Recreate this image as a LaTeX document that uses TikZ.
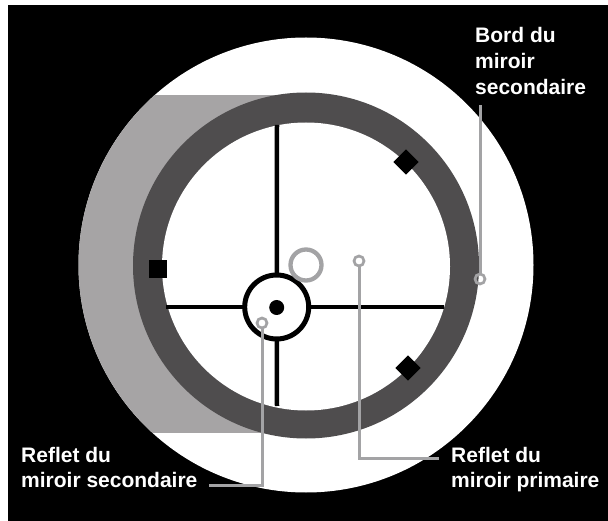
\documentclass[tikz,border=0pt]{standalone}
\usepackage{fontspec}
\setmainfont{Liberation Sans}
\usetikzlibrary{positioning}
\definecolor{ringgray}{HTML}{4F4D4E}
\definecolor{shadegray}{HTML}{A6A4A5}
\definecolor{leadgray}{HTML}{A3A3A5}
\tikzset{
    disc/.style={circle, inner sep=0pt, outer sep=0pt},
    marker/.style={fill=black, inner sep=0pt, outer sep=0pt, minimum size=#1},
    target/.style={disc, draw=leadgray, line width=2.7pt, minimum size=10pt},
    leader/.style={draw=leadgray, line width=3pt},
    cross/.style={line width=4.5pt, black},
    legend/.style={text=white, align=left, anchor=north west, inner sep=0pt, font=\fontsize{21}{25}\selectfont\bfseries}
}
\begin{document}
\begin{tikzpicture}[x=1pt, y=-1pt]
            \useasboundingbox (0,0) rectangle (608,521);
            \fill[white] (0,0) rectangle (608,521);
            \fill[black] (8,5) rectangle (608,521);

            \node[disc, fill=white, minimum size=455pt] (fond) at (306,265) {};
            \begin{scope}
                \clip (306,265) circle (227.5);
                \fill[shadegray] (60,95) rectangle (285,433);
            \end{scope}
            \node[disc, fill=ringgray, minimum size=346pt] (bord) at (306,265.5) {};
            \node[disc, fill=white, minimum size=288pt] (champ) at (306,266.5) {};

            \coordinate (haut) at (277,125);
            \coordinate (bas) at (277,406);
            \coordinate (gauche) at (166,307);
            \coordinate (droite) at (444,307);
            \node[disc, draw=black, line width=5pt, fill=white, minimum size=64pt] (sec) at (276.7,307) {};
            \node[disc, fill=black, minimum size=15pt] (point) at (276.7,307.5) {};
            \draw[cross] (haut) -- (sec);
            \draw[cross] (bas) -- (sec);
            \draw[cross] (gauche) -- (sec);
            \draw[cross] (droite) -- (sec);

            \node[disc, draw=leadgray, line width=4.3pt, minimum size=31pt] (anneau) at (306,265) {};
            \node[marker=18pt] (vis1) at (157.5,269.5) {};
            \node[marker=18pt, rotate=45] (vis2) at (406,162) {};
            \node[marker=18pt, rotate=45] (vis3) at (408,368) {};

            \node[target] (refsec) at (262,323) {};
            \node[target] (refprim) at (359,261) {};
            \node[target] (bordsec) at (480,279) {};

            \node[legend] (labsec) at (21,447.5) {Reflet du\\miroir secondaire};
            \node[legend] (labprim) at (451,447.5) {Reflet du\\miroir primaire};
            \node[legend] (labbord) at (475,27.5) {Bord du\\[1pt]miroir\\[1pt]secondaire};

            \coordinate (finsec) at (209,485);
            \coordinate (finprim) at (439,458);
            \coordinate (finbord) at (480,105);
            \draw[leader] (refsec) -- (refsec |- finsec) -- (finsec);
            \draw[leader] (refprim) -- (refprim |- finprim) -- (finprim);
            \draw[leader] (bordsec) -- (finbord);
        \end{tikzpicture}
\end{document}
